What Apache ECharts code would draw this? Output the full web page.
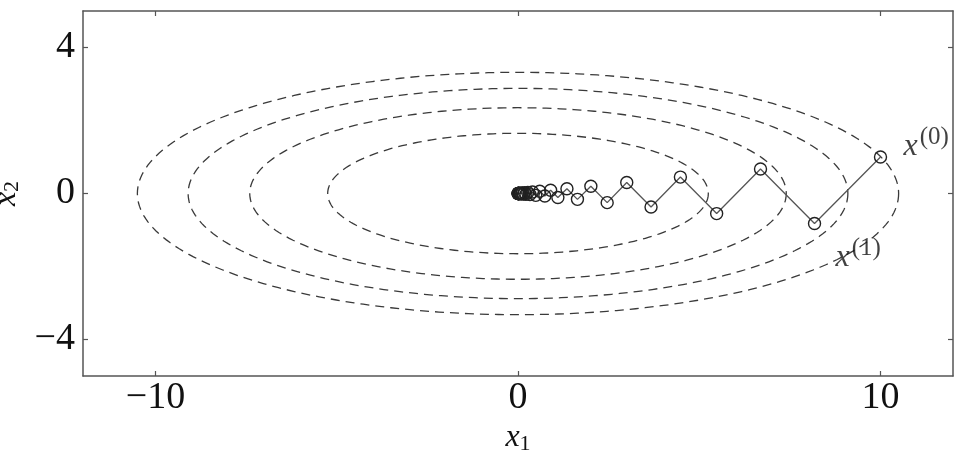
<!DOCTYPE html>
<html>
<head>
<meta charset="utf-8">
<script src="https://cdn.jsdelivr.net/npm/echarts@6/dist/echarts.min.js"></script>
<style>html,body{margin:0;padding:0;background:#fff}#c{width:956px;height:456px}</style>
</head>
<body>
<div id="c"></div>
<script>
// Iterates x^(k) = (x1, x2)
const iterX1 = [10, 8.18, 6.69, 5.48, 4.48, 3.67, 3.00, 2.46, 2.01, 1.64, 1.35, 1.10, 0.90, 0.74, 0.60, 0.49, 0.40, 0.33, 0.27, 0.22, 0.18, 0.15, 0.12, 0.10, 0.08, 0.066, 0.054, 0.044, 0.036, 0.030, 0.024, 0.020, 0.016, 0.013, 0.011, 0.009, 0.007, 0.006, 0.005, 0.004];
const iterX2 = [1, -0.82, 0.67, -0.55, 0.45, -0.37, 0.30, -0.25, 0.20, -0.16, 0.13, -0.11, 0.09, -0.07, 0.06, -0.05, 0.04, -0.03, 0.03, -0.02, 0.02, -0.015, 0.012, -0.010, 0.008, -0.007, 0.005, -0.004, 0.004, -0.003, 0.002, -0.002, 0.002, -0.001, 0.001, -0.001, 0.001, -0.001, 0.0005, -0.0004];
// Contour ellipses (centred at origin): semi-axes along x1 and x2
const contourA = [10.5, 9.1, 7.4, 5.25];
const contourB = [3.32, 2.88, 2.35, 1.65];
// Tick labels
const xTicks = [-10, 0, 10];
const yTicks = [-4, 0, 4];
// Point labels
const pointLabels = [{idx: 0, sup: '(0)'}, {idx: 1, sup: '(1)'}];

const FONT = '"Liberation Serif", "DejaVu Serif", serif';
const pathData = iterX1.map((v, i) => [v, iterX2[i]]);
const ellipseData = contourA.map((a, i) => [a, contourB[i]]);

const chart = echarts.init(document.getElementById('c'), null, {renderer: 'canvas'});
const axisColor = '#555';
const tickLabelStyle = {fontFamily: FONT, fontSize: 38, color: '#111'};
const fmtMinus = v => (v < 0 ? '\u2212' + Math.abs(v) : String(v));
const nameRich = {
  i: {fontFamily: FONT, fontStyle: 'italic', fontSize: 32, color: '#111'},
  s: {fontFamily: FONT, fontSize: 22, color: '#111', padding: [12, 0, 0, 0]}
};

chart.setOption({
  animation: false,
  grid: {left: 83, right: 3, top: 11, bottom: 80, show: false, containLabel: false, outerBoundsMode: 'none'},
  xAxis: [{
    type: 'value', min: -12, max: 12, interval: 1, position: 'bottom',
    axisLine: {show: true, onZero: false, lineStyle: {color: axisColor, width: 1.5}},
    axisTick: {show: true, inside: true, length: 5, customValues: xTicks, lineStyle: {color: axisColor, width: 1.2}},
    axisLabel: {show: true, margin: 3, customValues: xTicks, formatter: fmtMinus, ...tickLabelStyle},
    splitLine: {show: false},
    name: '{i|x}{s|1}', nameLocation: 'middle', nameGap: 44,
    nameTextStyle: {rich: nameRich}
  }, {
    type: 'value', min: -12, max: 12, position: 'top',
    axisLine: {show: true, onZero: false, lineStyle: {color: axisColor, width: 1.5}},
    axisTick: {show: true, inside: true, length: 5, customValues: xTicks, lineStyle: {color: axisColor, width: 1.2}},
    axisLabel: {show: false}, splitLine: {show: false}
  }],
  yAxis: [{
    type: 'value', min: -5, max: 5, position: 'left',
    axisLine: {show: true, onZero: false, lineStyle: {color: axisColor, width: 1.5}},
    axisTick: {show: true, inside: true, length: 5, customValues: yTicks, lineStyle: {color: axisColor, width: 1.2}},
    axisLabel: {show: true, margin: 8, customValues: yTicks, formatter: fmtMinus, ...tickLabelStyle},
    splitLine: {show: false},
    name: '{i|x}{s|2}', nameLocation: 'middle', nameGap: 56, nameRotate: 90,
    nameTextStyle: {rich: nameRich}
  }, {
    type: 'value', min: -5, max: 5, position: 'right',
    axisLine: {show: true, onZero: false, lineStyle: {color: axisColor, width: 1.5}},
    axisTick: {show: true, inside: true, length: 5, customValues: yTicks, lineStyle: {color: axisColor, width: 1.2}},
    axisLabel: {show: false}, splitLine: {show: false}
  }],
  series: [{
    type: 'custom',
    xAxisIndex: 0, yAxisIndex: 0,
    data: ellipseData,
    clip: true,
    renderItem: function (params, api) {
      const c = api.coord([0, 0]);
      const ex = api.coord([api.value(0), 0]);
      const ey = api.coord([0, api.value(1)]);
      const rx = ex[0] - c[0];
      const ry = c[1] - ey[1];
      const pts = [];
      const n = 240;
      for (let k = 0; k <= n; k++) {
        const t = (k / n) * Math.PI * 2;
        pts.push([c[0] + rx * Math.cos(t), c[1] + ry * Math.sin(t)]);
      }
      return {
        type: 'polyline',
        shape: {points: pts},
        style: {fill: null, stroke: '#3a3a3a', lineWidth: 1.3, lineDash: [9, 6]}
      };
    },
    z: 1
  }, {
    type: 'line',
    data: pathData,
    symbol: 'circle', symbolSize: 12,
    lineStyle: {color: '#555', width: 1.3},
    itemStyle: {color: 'rgba(255,255,255,0)', borderColor: '#222', borderWidth: 1.4},
    z: 3
  }, {
    type: 'scatter',
    data: pointLabels.map(p => ({value: pathData[p.idx], sup: p.sup})),
    symbolSize: 0,
    label: {
      show: true,
      formatter: p => '{i|x}{s|' + p.data.sup + '}',
      position: 'right',
      rich: {
        i: {fontFamily: FONT, fontStyle: 'italic', fontSize: 32, color: '#111'},
        s: {fontFamily: FONT, fontSize: 25, color: '#111', padding: [0, 0, 18, 2]}
      }
    },
    labelLayout: function (params) {
      if (params.dataIndex === 0) {
        return {x: params.rect.x + 23, y: params.rect.y - 32};
      }
      return {x: params.rect.x + 21, y: params.rect.y + 13};
    },
    z: 4
  }]
});
</script>
</body>
</html>
